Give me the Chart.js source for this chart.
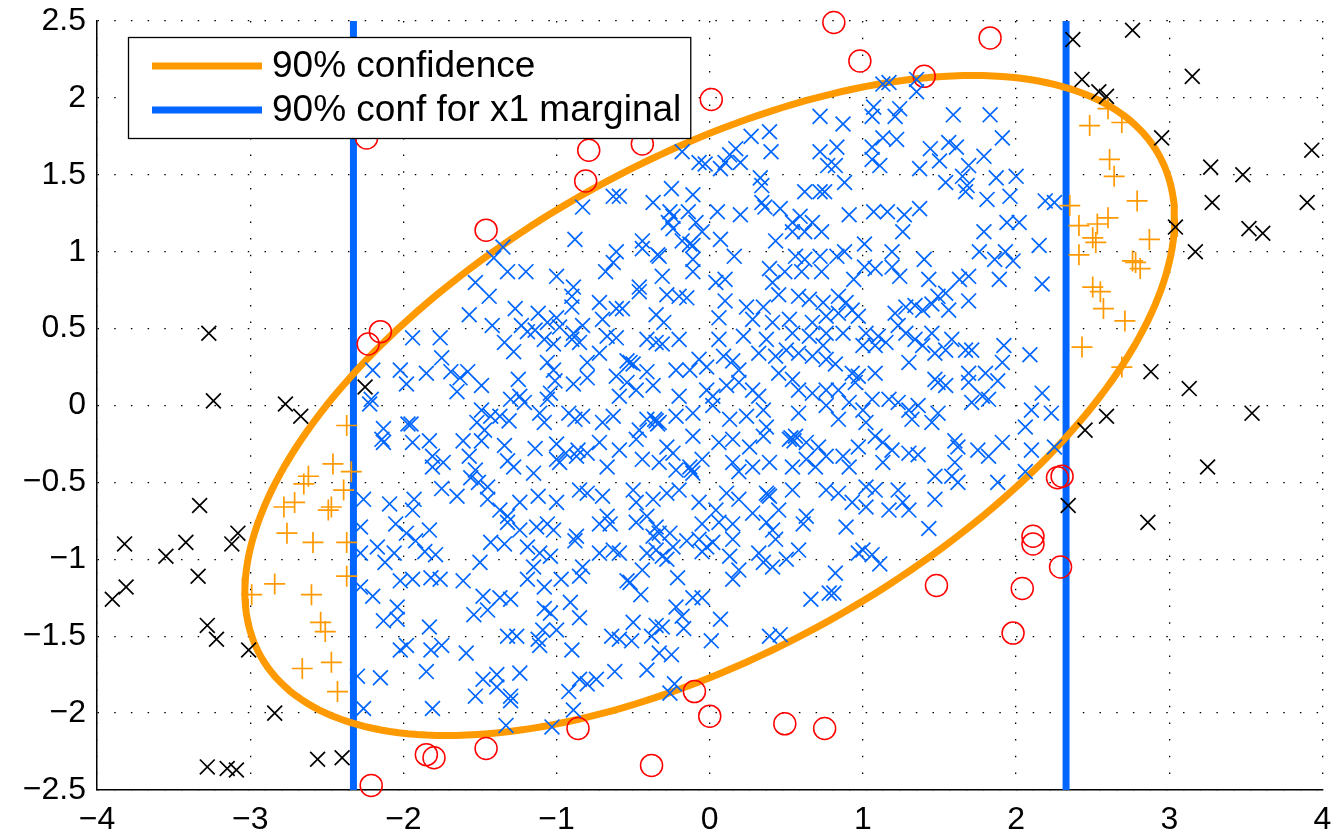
<!DOCTYPE html>
<html><head><meta charset="utf-8">
<script src="https://cdn.jsdelivr.net/npm/chart.js@4"></script>
<style>html,body{margin:0;padding:0;background:#fff;overflow:hidden;}</style>
</head><body>
<canvas id="c" width="1335" height="838"></canvas>
<script>
const xTicks = [-4, -3, -2, -1, 0, 1, 2, 3, 4];
const yTicks = [-2.5, -2, -1.5, -1, -0.5, 0, 0.5, 1, 1.5, 2, 2.5];
const legendLabels = ['90% confidence', '90% conf for x1 marginal'];
const covariance = [[2, 0.8], [0.8, 1]];
const chi2Level90 = 4.605;
const marginalBound = 2.326;

// blue x : inside ellipse and inside marginal bounds
const insideBoth = [
[-0.83,1.29],[-0.88,1.08],[-1.35,1.03],[-1.41,0.96],[-1.32,0.87],[-1.20,0.87],[-1.00,0.84],[-1.53,0.80],[-0.89,0.77],
[0.72,1.88],[0.39,1.78],[0.27,1.75],[-0.18,1.65],[0.40,1.65],[0.72,1.65],[0.17,1.67],[0.13,1.63],[-0.07,1.58],[-0.03,1.57],[0.10,1.58],[0.20,1.58],[0.07,1.54],[0.77,1.56],[0.33,1.48],[0.34,1.43],[-0.63,1.36],[-0.59,1.36],[-0.25,1.41],[-0.11,1.37],[-0.37,1.32],[0.34,1.32],[0.36,1.29],[0.46,1.28],[0.62,1.39],[0.72,1.39],[0.75,1.39],[0.05,1.26],[0.20,1.24],[-0.26,1.26],[-0.24,1.23],[-0.14,1.26],[-0.27,1.19],[-0.09,1.19],[-0.05,1.13],[0.54,1.19],[0.59,1.23],[0.67,1.19],[-0.24,1.15],[0.43,1.07],[0.54,1.13],[0.62,1.13],[0.73,1.13],[-0.44,1.07],[-0.18,1.07],[-0.13,1.05],[-0.11,1.04],[0.07,1.08],[-0.44,1.02],[-0.34,0.98],[-0.33,0.97],[-0.61,1.00],[-0.63,0.93],[0.16,0.97],[0.56,0.97],[0.62,0.95],[0.72,0.97],[-0.11,0.95],[-0.68,0.87],[-0.31,0.84],[-0.11,0.87],[0.39,0.89],[0.49,0.87],[0.60,0.87],[0.73,0.87],[-0.46,0.77],[0.04,0.80],[0.10,0.82],[0.41,0.80],
[1.13,2.09],[1.17,2.10],[1.35,2.12],[1.35,2.04],[1.07,1.94],[1.24,1.93],[1.21,1.88],[1.06,1.88],[1.59,1.89],[1.83,1.89],[0.87,1.83],[1.91,1.74],[1.13,1.74],[1.22,1.73],[0.83,1.68],[1.06,1.68],[1.56,1.71],[1.61,1.68],[1.44,1.67],[1.79,1.62],[1.06,1.60],[1.11,1.56],[1.50,1.59],[1.37,1.54],[0.82,1.56],[1.69,1.56],[1.65,1.49],[1.87,1.48],[2.00,1.49],[0.88,1.45],[1.54,1.45],[1.68,1.43],[1.67,1.39],[1.81,1.34],[1.96,1.36],[2.19,1.33],[2.25,1.32],[0.91,1.24],[1.07,1.26],[1.16,1.26],[1.27,1.24],[1.37,1.28],[1.26,1.13],[1.79,1.13],[1.94,1.19],[2.02,1.19],[2.15,1.04],[1.01,1.05],[0.88,1.00],[0.83,0.97],[1.19,1.00],[1.40,0.95],[1.76,1.00],[1.86,0.95],[1.93,1.00],[1.98,0.94],[1.01,0.90],[1.08,0.89],[1.19,0.90],[1.24,0.84],[1.43,0.82],[1.63,0.82],[1.69,0.84],[1.89,0.82],[2.17,0.79],[0.94,0.82],
[-1.44,0.71],[-1.57,0.59],[-1.27,0.63],[-1.12,0.60],[-1.00,0.57],[-0.90,0.71],[-0.90,0.64],[-1.42,0.52],[-1.23,0.52],[-1.19,0.48],[-1.14,0.49],[-1.06,0.54],[-0.98,0.51],[-0.89,0.47],[-0.83,0.52],[-1.94,0.44],[-1.76,0.44],[-1.34,0.41],[-1.28,0.35],[-1.08,0.43],[-1.02,0.40],[-0.90,0.43],[-0.85,0.41],[-1.75,0.31],[-2.20,0.23],[-2.02,0.23],[-1.85,0.21],[-1.69,0.22],[-1.58,0.22],[-1.63,0.18],[-1.98,0.14],[-1.49,0.13],[-1.65,0.09],[-1.25,0.17],[-1.06,0.28],[-1.02,0.23],[-1.01,0.16],[-0.89,0.14],[-0.80,0.28],[-0.80,0.18],[-2.21,0.04],[-2.22,0.01],[-1.30,0.04],[-1.24,0.06],[-1.21,0.02],[-1.04,0.08],[-1.06,0.04],[-1.49,-0.03],[-1.43,-0.07],[-1.37,-0.07],[-1.31,-0.10],[-1.52,-0.11],[-1.11,-0.05],[-1.08,-0.11],[-0.92,-0.05],[-0.88,-0.09],[-0.83,-0.07],[-2.13,-0.15],[-1.97,-0.12],[-1.95,-0.12],[-2.14,-0.22],[-2.13,-0.24],[-1.94,-0.24],[-1.83,-0.23],[-1.61,-0.23],[-1.49,-0.23],[-1.47,-0.16],[-1.34,-0.26],[-1.14,-0.28],[-1.00,-0.25],[-0.94,-0.31],[-0.86,-0.29],[-1.81,-0.33],[-1.81,-0.40],[-1.74,-0.37],[-1.57,-0.33],[-1.53,-0.42],[-1.32,-0.36],[-1.28,-0.40],[-1.15,-0.44],[-1.00,-0.35],[-0.98,-0.37],[-0.87,-0.33],[-0.80,-0.31],[-2.26,-0.61],[-2.09,-0.64],[-1.93,-0.61],[-1.94,-0.68],[-1.75,-0.54],[-1.65,-0.59],[-1.56,-0.47],[-1.51,-0.50],[-1.45,-0.53],[-1.45,-0.61],[-1.37,-0.68],[-1.32,-0.72],[-1.24,-0.63],[-1.12,-0.59],[-1.00,-0.63],[-0.85,-0.55],[-0.80,-0.57],
[-0.72,0.67],[-0.61,0.63],[-0.46,0.74],[-0.28,0.72],[-0.20,0.71],[-0.15,0.70],[0.10,0.68],[0.24,0.64],[0.35,0.64],[0.45,0.72],[0.58,0.71],[0.65,0.69],[0.74,0.67],[-0.70,0.56],[-0.57,0.63],[-0.35,0.59],[-0.30,0.54],[0.06,0.57],[0.28,0.56],[0.41,0.54],[0.52,0.56],[0.67,0.54],[0.76,0.58],[-0.67,0.45],[-0.61,0.44],[-0.41,0.43],[-0.35,0.41],[-0.31,0.40],[-0.20,0.43],[0.06,0.43],[0.22,0.45],[0.37,0.43],[0.54,0.47],[0.65,0.45],[0.76,0.47],[-0.72,0.34],[-0.54,0.29],[-0.50,0.27],[-0.52,0.28],[-0.41,0.22],[-0.22,0.23],[-0.13,0.23],[-0.07,0.30],[-0.02,0.25],[0.09,0.32],[0.15,0.29],[0.19,0.23],[0.32,0.34],[0.43,0.32],[0.50,0.36],[0.58,0.34],[0.67,0.32],[0.76,0.30],[0.74,0.39],[-0.61,0.19],[-0.54,0.15],[-0.48,0.10],[-0.37,0.13],[-0.59,0.06],[-0.20,0.06],[-0.02,0.10],[0.02,0.06],[0.11,0.13],[0.19,0.15],[0.28,0.10],[0.32,0.06],[0.54,0.17],[0.58,0.10],[0.67,0.08],[0.76,0.10],[0.45,0.21],[-0.70,-0.11],[-0.63,-0.07],[-0.41,-0.09],[-0.35,-0.10],[-0.36,-0.09],[-0.34,-0.12],[-0.33,-0.11],[-0.46,-0.16],[-0.22,-0.07],[-0.11,-0.05],[0.02,0.00],[0.13,-0.09],[0.24,-0.07],[0.35,-0.03],[0.37,-0.14],[0.58,-0.05],[0.76,0.00],[-0.72,-0.24],[-0.59,-0.29],[-0.48,-0.22],[-0.28,-0.27],[-0.24,-0.31],[-0.11,-0.20],[0.06,-0.24],[0.15,-0.22],[0.26,-0.27],[0.35,-0.20],[0.52,-0.22],[0.53,-0.21],[0.55,-0.23],[0.56,-0.20],[0.63,-0.24],[0.71,-0.27],[0.76,-0.33],[-0.67,-0.40],[-0.44,-0.35],[-0.33,-0.37],[-0.22,-0.42],[-0.13,-0.40],[-0.12,-0.42],[-0.11,-0.44],[-0.05,-0.35],[0.15,-0.37],[0.19,-0.43],[0.28,-0.40],[0.39,-0.37],[0.54,-0.40],[0.63,-0.35],[0.69,-0.40],[-0.70,-0.59],[-0.50,-0.55],[-0.48,-0.63],[-0.37,-0.61],[-0.28,-0.57],[-0.20,-0.55],[-0.07,-0.63],[0.11,-0.57],[0.19,-0.61],[0.37,-0.57],[0.38,-0.58],[0.39,-0.59],[0.54,-0.55],[0.76,-0.55],[0.04,-0.68],[0.28,-0.70],[0.45,-0.68],[0.63,-0.72],[-0.41,-0.72],[-0.67,-0.72],
[0.84,0.71],[0.89,0.67],[0.84,0.60],[0.93,0.62],[0.97,0.58],[0.87,0.47],[1.02,0.47],[1.10,0.45],[1.00,0.39],[1.08,0.39],[1.15,0.41],[1.21,0.60],[1.28,0.64],[1.34,0.65],[1.39,0.62],[1.45,0.66],[1.49,0.71],[1.54,0.73],[1.56,0.62],[1.69,0.68],[1.23,0.52],[1.28,0.47],[1.34,0.43],[1.39,0.39],[1.45,0.47],[1.47,0.34],[1.54,0.36],[1.58,0.43],[1.67,0.36],[1.71,0.36],[1.92,0.39],[2.09,0.33],[1.30,0.28],[0.82,0.27],[0.93,0.21],[0.97,0.19],[0.95,0.15],[1.08,0.21],[0.84,0.10],[1.47,0.17],[1.49,0.15],[1.54,0.13],[1.69,0.21],[1.69,0.15],[1.80,0.21],[1.88,0.16],[1.91,0.28],[1.78,0.06],[1.82,0.04],[1.71,0.02],[2.17,0.08],[2.10,-0.03],[2.23,-0.05],[2.06,-0.14],[1.17,0.04],[1.23,0.02],[1.30,-0.03],[1.36,0.00],[1.32,-0.09],[1.45,-0.11],[1.49,-0.05],[0.91,0.02],[1.00,-0.03],[1.06,0.04],[0.84,-0.09],[1.02,-0.11],[1.08,-0.20],[1.13,-0.24],[1.19,-0.29],[1.30,-0.31],[1.36,-0.32],[0.97,-0.27],[0.87,-0.33],[0.91,-0.40],[1.13,-0.37],[1.60,-0.23],[1.62,-0.27],[1.75,-0.29],[1.82,-0.33],[1.91,-0.24],[2.10,-0.29],[2.25,-0.27],[2.06,-0.43],[1.60,-0.37],[1.47,-0.46],[1.58,-0.46],[1.62,-0.50],[1.88,-0.50],[1.02,-0.53],[1.08,-0.55],[1.23,-0.55],[1.26,-0.63],[1.30,-0.68],[1.47,-0.61],[0.84,-0.57],[0.93,-0.63],[1.02,-0.66],[1.17,-0.68],
[-2.28,-0.79],[-2.05,-0.77],[-1.98,-0.83],[-1.83,-0.81],[-1.92,-0.88],[-1.86,-0.95],[-1.79,-0.97],[-2.17,-0.92],[-2.12,-1.02],[-2.06,-0.96],[-2.28,-0.96],[-1.43,-0.89],[-1.34,-0.90],[-1.32,-0.76],[-1.24,-0.81],[-1.19,-0.92],[-1.13,-0.79],[-1.06,-0.77],[-1.02,-0.81],[-1.11,-0.96],[-1.04,-0.98],[-0.87,-0.85],[-0.88,-0.88],[-0.83,-1.05],[-1.15,-1.05],[-1.19,-1.13],[-1.08,-1.18],[-0.97,-1.13],[-0.85,-1.11],[-1.50,-1.02],[-1.61,-1.14],[-2.28,-1.18],[-2.20,-1.24],[-2.02,-1.14],[-1.94,-1.13],[-1.82,-1.12],[-1.76,-1.13],[-2.04,-1.31],[-2.13,-1.40],[-2.04,-1.39],[-1.83,-1.44],[-1.48,-1.24],[-1.45,-1.33],[-1.54,-1.36],[-1.37,-1.25],[-1.30,-1.26],[-1.08,-1.32],[-1.04,-1.35],[-1.09,-1.46],[-1.00,-1.46],[-0.91,-1.28],[-0.85,-1.38],[-1.32,-1.50],[-1.26,-1.50],[-1.12,-1.52],[-1.11,-1.56],[-0.90,-1.59],[-2.02,-1.59],[-1.98,-1.56],[-1.82,-1.59],[-1.75,-1.56],[-1.59,-1.61],[-2.30,-1.76],[-2.15,-1.77],[-1.85,-1.73],[-1.48,-1.78],[-1.39,-1.75],[-1.24,-1.74],[-1.39,-1.83],[-1.30,-1.89],[-1.30,-1.92],[-1.53,-1.89],[-0.92,-1.86],[-0.85,-1.78],[-0.80,-1.81],[-2.26,-1.97],[-1.81,-1.97],[-0.89,-1.98],[-1.33,-2.08],[-1.03,-2.09],
[-0.72,-0.77],[-0.65,-0.77],[-0.48,-0.76],[-0.35,-0.79],[-0.37,-0.85],[-0.33,-0.83],[-0.26,-0.83],[-0.05,-0.77],[0.06,-0.76],[0.15,-0.77],[0.37,-0.76],[0.41,-0.81],[0.43,-0.87],[0.61,-0.77],[-0.72,-0.96],[-0.63,-0.94],[-0.59,-0.96],[-0.41,-0.96],[-0.35,-0.94],[-0.31,-0.98],[-0.28,-1.00],[-0.24,-0.92],[-0.15,-0.88],[-0.07,-0.87],[-0.02,-0.92],[0.02,-0.89],[-0.05,-0.95],[0.15,-0.87],[0.13,-0.98],[0.32,-0.96],[0.35,-1.02],[0.41,-1.05],[0.50,-1.00],[0.58,-0.94],[0.19,-1.07],[0.15,-1.13],[-0.44,-1.07],[-0.54,-1.14],[-0.52,-1.15],[-0.45,-1.23],[-0.21,-1.12],[-0.22,-1.31],[-0.11,-1.25],[-0.05,-1.25],[0.66,-1.26],[0.78,-1.22],[0.07,-1.39],[-0.18,-1.37],[-0.17,-1.45],[-0.50,-1.41],[-0.35,-1.43],[-0.31,-1.44],[-0.64,-1.50],[-0.59,-1.52],[-0.51,-1.53],[-0.38,-1.50],[0.01,-1.53],[0.39,-1.50],[0.46,-1.49],[-0.33,-1.61],[-0.25,-1.62],[-0.41,-1.72],[-0.62,-1.73],[-0.74,-1.78],[-0.23,-1.81],[-0.26,-1.87],
[0.89,-0.79],[1.43,-0.80],[1.00,-0.94],[0.97,-0.96],[1.06,-0.97],[1.11,-1.03],[0.82,-1.09],[0.81,-1.22]
];

// orange + : inside ellipse, outside marginal bounds
const insideEllipseOnly = [
[2.60,1.93],[2.48,1.82],[2.69,1.84],[2.61,1.60],[2.64,1.49],[2.79,1.33],[2.35,1.30],[2.60,1.22],[2.41,1.17],[2.53,1.18],[2.50,1.09],[2.52,1.06],[2.87,1.08],[2.41,0.98],[2.76,0.94],[2.78,0.93],[2.81,0.89],[2.50,0.77],[2.55,0.74],[2.57,0.63],[2.71,0.55],[2.43,0.38],[2.69,0.25],
[-2.37,-0.13],[-2.46,-0.38],[-2.34,-0.43],[-2.62,-0.46],[-2.65,-0.51],[-2.39,-0.55],[-2.71,-0.63],[-2.78,-0.66],[-2.47,-0.66],[-2.49,-0.68],[-2.76,-0.83],[-2.59,-0.89],[-2.37,-0.89],[-2.37,-1.11],[-2.84,-1.16],[-2.99,-1.23],[-2.60,-1.23],[-2.54,-1.41],[-2.51,-1.47],[-2.66,-1.71],[-2.47,-1.67],[-2.43,-1.86]
];

// red o : outside ellipse, inside marginal bounds
const insideMarginalOnly = [
[0.81,2.49],[1.83,2.39],[0.98,2.24],[1.40,2.14],[0.01,1.99],[-0.25,2.07],[-0.44,1.70],[-0.79,1.66],[-0.81,1.46],[-1.46,1.14],[-2.24,1.74],[-2.15,0.48],[-2.23,0.40],
[2.27,-0.47],[2.30,-0.46],[2.11,-0.85],[2.11,-0.90],[2.29,-1.05],[2.04,-1.19],[1.48,-1.17],[1.98,-1.48],
[-0.10,-1.86],[0.00,-2.02],[0.49,-2.07],[0.75,-2.10],[-0.86,-2.10],[-1.46,-2.23],[-1.85,-2.27],[-1.80,-2.29],[-0.38,-2.34],[-2.21,-2.47]
];

// black x : outside ellipse and outside marginal bounds
const outsideBoth = [
[2.37,2.38],[2.76,2.44],[3.15,2.14],[2.43,2.12],[2.54,2.04],[2.59,2.01],[2.95,1.74],[3.93,1.66],[3.27,1.55],[3.48,1.50],[3.28,1.32],[3.90,1.32],[3.52,1.15],[3.61,1.12],[3.04,1.16],[3.17,1.00],[2.88,0.22],[3.13,0.11],[3.54,-0.05],[2.59,-0.07],[2.45,-0.16],[3.25,-0.40],[2.34,-0.65],[2.86,-0.76],
[-3.27,0.47],[-3.24,0.03],[-2.25,0.12],[-2.77,0.01],[-2.67,-0.07],[-3.33,-0.65],[-3.82,-0.90],[-3.08,-0.83],[-3.12,-0.90],[-3.42,-0.89],[-3.55,-0.98],[-3.34,-1.11],[-3.81,-1.18],[-3.90,-1.26],[-3.28,-1.43],[-3.22,-1.52],[-3.01,-1.59],[-2.84,-2.00],[-2.56,-2.30],[-2.40,-2.29],[-3.28,-2.35],[-3.15,-2.36],[-3.09,-2.37]
];

const ORANGE = '#ff9900', BLUE = '#0066ff', RED = '#ff0000', BLACK = '#000000';
const FONT = '"Liberation Sans", Arial, Helvetica, sans-serif';

const toPts = arr => arr.map(p => ({x: p[0], y: p[1]}));

// confidence ellipse from covariance (Cholesky) at chi-square level
function ellipsePoints(cov, level, n) {
  const l11 = Math.sqrt(cov[0][0]);
  const l21 = cov[1][0] / l11;
  const l22 = Math.sqrt(cov[1][1] - l21 * l21);
  const k = Math.sqrt(level);
  const pts = [];
  for (let i = 0; i <= n; i++) {
    const t = 2 * Math.PI * i / n;
    const u = Math.cos(t), v = Math.sin(t);
    pts.push({x: k * l11 * u, y: k * (l21 * u + l22 * v)});
  }
  return pts;
}

const markerBase = {showLine: false, clip: false, pointBackgroundColor: 'rgba(0,0,0,0)'};

const legendPlugin = {
  id: 'boxLegend',
  afterDraw(chart) {
    const {ctx, chartArea: a} = chart;
    const colors = [ORANGE, BLUE];
    ctx.save();
    ctx.font = '37px ' + FONT;
    const textW = Math.max(...legendLabels.map(t => ctx.measureText(t).width));
    const left = a.left + 31, top = a.top + 16;
    const padL = 24, lineLen = 110, gap = 10, padR = 9;
    const w = padL + lineLen + gap + textW + padR, h = 101;
    ctx.fillStyle = '#fff';
    ctx.fillRect(left, top, w, h);
    ctx.strokeStyle = '#000';
    ctx.lineWidth = 1.3;
    ctx.strokeRect(left + 0.5, top + 0.5, w, h);
    legendLabels.forEach((lab, i) => {
      const cy = top + 29 + i * 44;
      ctx.strokeStyle = colors[i];
      ctx.lineWidth = 7;
      ctx.beginPath();
      ctx.moveTo(left + padL, cy);
      ctx.lineTo(left + padL + lineLen, cy);
      ctx.stroke();
      ctx.fillStyle = '#000';
      ctx.textBaseline = 'middle';
      ctx.textAlign = 'left';
      ctx.fillText(lab, left + padL + lineLen + gap, cy + 1);
    });
    ctx.restore();
  }
};

const fmt = v => String(Math.round(v * 10) / 10).replace('-', '\u2212');

new Chart(document.getElementById('c'), {
  type: 'scatter',
  data: {
    datasets: [
      Object.assign({label: 'inside both', data: toPts(insideBoth), pointStyle: 'crossRot', pointRadius: 10.5, pointBorderWidth: 1.7, pointBorderColor: BLUE, borderColor: BLUE, order: 1}, markerBase),
      Object.assign({label: 'ellipse only', data: toPts(insideEllipseOnly), pointStyle: 'cross', pointRadius: 10.5, pointBorderWidth: 1.7, pointBorderColor: ORANGE, borderColor: ORANGE, order: 1}, markerBase),
      Object.assign({label: 'marginal only', data: toPts(insideMarginalOnly), pointStyle: 'circle', pointRadius: 11, pointBorderWidth: 1.5, pointBorderColor: RED, borderColor: RED, order: 1}, markerBase),
      Object.assign({label: 'outside', data: toPts(outsideBoth), pointStyle: 'crossRot', pointRadius: 10.5, pointBorderWidth: 1.7, pointBorderColor: BLACK, borderColor: BLACK, order: 1}, markerBase),
      {label: legendLabels[0], data: ellipsePoints(covariance, chi2Level90, 240), showLine: true, pointRadius: 0, borderColor: ORANGE, borderWidth: 7, tension: 0, order: 10},
      {label: legendLabels[1], data: [{x: -marginalBound, y: -2.5}, {x: -marginalBound, y: 2.5}], showLine: true, pointRadius: 0, borderColor: BLUE, borderWidth: 7, order: 10},
      {label: legendLabels[1] + ' (upper)', data: [{x: marginalBound, y: -2.5}, {x: marginalBound, y: 2.5}], showLine: true, pointRadius: 0, borderColor: BLUE, borderWidth: 7, order: 10}
    ]
  },
  options: {
    responsive: false,
    animation: false,
    events: [],
    devicePixelRatio: 1,
    layout: {padding: {top: 21, right: 7, left: 0, bottom: 0}},
    plugins: {legend: {display: false}, tooltip: {enabled: false}},
    scales: {
      x: {
        type: 'linear', min: -4, max: 4,
        afterBuildTicks: s => { s.ticks = xTicks.map(v => ({value: v})); },
        afterFit: s => { s.height = 48; s.paddingLeft = 0; s.paddingRight = 0; },
        grid: {color: '#000', lineWidth: 1.3, drawTicks: false},
        border: {display: true, color: '#000', width: 1.5, dash: [1.5, 15.2]},
        ticks: {color: '#000', font: {family: FONT, size: 32}, padding: 11, maxRotation: 0, callback: fmt}
      },
      y: {
        type: 'linear', min: -2.5, max: 2.5,
        afterBuildTicks: s => { s.ticks = yTicks.map(v => ({value: v})); },
        afterFit: s => { s.width = 97; s.paddingTop = 0; s.paddingBottom = 0; },
        grid: {color: '#000', lineWidth: 1.3, drawTicks: false},
        border: {display: true, color: '#000', width: 1.5, dash: [1.5, 15.2]},
        ticks: {color: '#000', font: {family: FONT, size: 32}, padding: 11, callback: fmt}
      }
    }
  },
  plugins: [legendPlugin]
});
</script>
</body></html>
